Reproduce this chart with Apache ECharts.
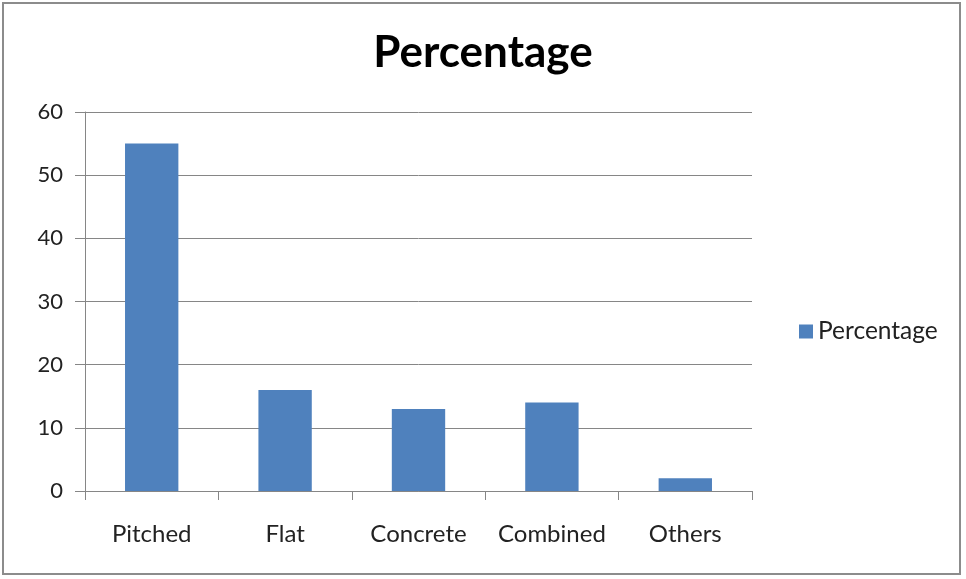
<!DOCTYPE html>
<html>
<head>
<meta charset="utf-8">
<script src="https://cdn.jsdelivr.net/npm/echarts@6/dist/echarts.min.js"></script>
<style>
html,body{margin:0;padding:0;background:#fff;}
#wrap{position:absolute;left:2px;top:2px;width:959px;height:573px;border:2px solid #8c8c8c;box-sizing:border-box;}
#chart{position:absolute;left:0;top:0;width:966px;height:579px;}
</style>
</head>
<body>
<div id="wrap"></div>
<div id="chart"></div>
<script>
const titleText = "Percentage";
const categories = ["Pitched", "Flat", "Concrete", "Combined", "Others"];
const seriesName = "Percentage";
const values = [55, 16, 13, 14, 2];
const yTicks = { min: 0, max: 60, interval: 10 };

const chart = echarts.init(document.getElementById('chart'), null, {renderer: 'canvas'});
const fontFam = 'Lato, "Open Sans", sans-serif';
chart.setOption({
  animation: false,
  backgroundColor: 'transparent',
  title: {
    text: titleText, left: 'center', top: 26,
    textStyle: { fontFamily: fontFam, fontWeight: 'bold', fontSize: 44, color: '#000' }
  },
  legend: {
    data: [seriesName], left: 794, top: 314, orient: 'vertical',
    icon: 'rect', itemWidth: 14, itemHeight: 14, itemGap: 8,
    textStyle: { fontFamily: fontFam, fontSize: 24.5, color: '#222' }
  },
  grid: { left: 85, right: 214, top: 112, bottom: 88, containLabel: false },
  xAxis: {
    type: 'category', data: categories, boundaryGap: true,
    axisLine: { lineStyle: { color: '#868686', width: 1 } },
    axisTick: { show: true, length: 9, lineStyle: { color: '#868686' }, alignWithLabel: false },
    axisLabel: { interval: 0, hideOverlap: false, margin: 31, fontFamily: fontFam, fontSize: 24, color: '#222' }
  },
  yAxis: {
    type: 'value', min: yTicks.min, max: yTicks.max, interval: yTicks.interval,
    axisLine: { show: true, lineStyle: { color: '#868686', width: 1 } },
    axisTick: { show: true, length: 10, lineStyle: { color: '#868686' } },
    splitLine: { show: true, lineStyle: { color: '#868686', width: 1 } },
    axisLabel: { margin: 22, fontFamily: fontFam, fontSize: 22, color: '#222' }
  },
  series: [{
    name: seriesName, type: 'bar', data: values,
    barCategoryGap: '60%',
    itemStyle: { color: '#4f81bd' }
  }]
});
</script>
</body>
</html>
